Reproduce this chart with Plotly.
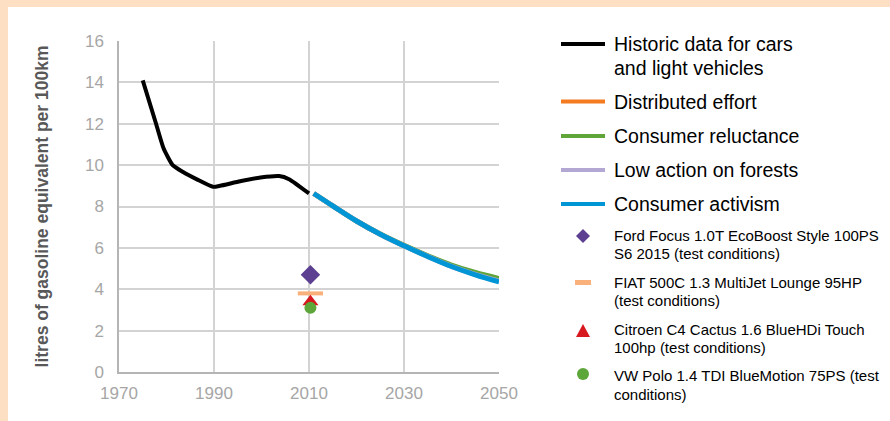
import plotly.graph_objects as go

# ---------------- data ----------------
hist_years = [1975, 1977.8, 1979.4, 1981.3, 1983.4, 1986.5, 1989.8, 1991.3, 1995.5, 1999.8, 2003.7, 2005.8, 2010]
hist_vals = [14.1, 12.0, 10.8, 10.0, 9.68, 9.3, 8.95, 9.0, 9.22, 9.4, 9.47, 9.32, 8.63]

scen_years = [2011, 2015, 2020, 2025, 2030, 2035, 2040, 2045, 2050]
distributed = [8.63, 8.03, 7.3, 6.66, 6.11, 5.6, 5.13, 4.75, 4.44]
reluctance = [8.63, 8.03, 7.3, 6.67, 6.12, 5.62, 5.17, 4.81, 4.52]
low_forests = [8.63, 8.03, 7.3, 6.66, 6.1, 5.59, 5.11, 4.72, 4.39]
activism = [8.63, 8.03, 7.3, 6.66, 6.1, 5.58, 5.1, 4.7, 4.36]

car_year = 2010.3
ford_val = [4.7]
fiat_val = [3.8]
citroen_val = [3.4]
vw_val = [3.1]

x_ticks = [1970, 1990, 2010, 2030, 2050]
y_ticks = [0, 2, 4, 6, 8, 10, 12, 14, 16]

# ---------------- layout geometry (pixels) ----------------
W, H = 890, 421
L, R, T, B = 119, 499, 41, 372  # plot area edges in px


def px(x):
    return (x - L) / (R - L)


def py(y):
    return (B - y) / (B - T)


FONT = "Arial, Liberation Sans, Helvetica, sans-serif"

fig = go.Figure()

fig.add_trace(go.Scatter(x=hist_years, y=hist_vals, mode="lines",
                         line=dict(color="#000000", width=4, shape="spline", smoothing=0.5),
                         name="Historic data"))
fig.add_trace(go.Scatter(x=scen_years, y=distributed, mode="lines",
                         line=dict(color="#F47B20", width=5, shape="spline"), name="Distributed effort"))
fig.add_trace(go.Scatter(x=scen_years, y=reluctance, mode="lines",
                         line=dict(color="#5FA53A", width=5, shape="spline"), name="Consumer reluctance"))
fig.add_trace(go.Scatter(x=scen_years, y=low_forests, mode="lines",
                         line=dict(color="#B3A8D3", width=5, shape="spline"), name="Low action on forests"))
fig.add_trace(go.Scatter(x=scen_years, y=activism, mode="lines",
                         line=dict(color="#0096D6", width=5, shape="spline"), name="Consumer activism"))

fig.add_trace(go.Scatter(x=[car_year], y=ford_val, mode="markers",
                         marker=dict(symbol="diamond", size=15, color="#5C3F91"), name="Ford"))
fig.add_trace(go.Scatter(x=[car_year], y=fiat_val, mode="markers",
                         marker=dict(symbol="line-ew", size=18, line=dict(color="#F9B07A", width=4)), name="FIAT"))
fig.add_trace(go.Scatter(x=[car_year], y=citroen_val, mode="markers",
                         marker=dict(symbol="triangle-up", size=14, color="#D7191F"), name="Citroen"))
fig.add_trace(go.Scatter(x=[car_year], y=vw_val, mode="markers",
                         marker=dict(symbol="circle", size=12, color="#5DA63A"), name="VW"))

shapes = []
# peach frame
peach = "#FDDFC4"
shapes.append(dict(type="rect", xref="paper", yref="paper", x0=px(0), x1=px(W), y0=py(0), y1=py(7),
                   fillcolor=peach, line=dict(width=0), layer="below"))
shapes.append(dict(type="rect", xref="paper", yref="paper", x0=px(0), x1=px(8), y0=py(0), y1=py(H),
                   fillcolor=peach, line=dict(width=0), layer="below"))

# legend
annotations = []
big = 19.5
small = 15
line_items = [
    ("#000000", 44, ["Historic data for cars", "and light vehicles"]),
    ("#F47B20", 101.5, ["Distributed effort"]),
    ("#5FA53A", 136, ["Consumer reluctance"]),
    ("#B3A8D3", 170, ["Low action on forests"]),
    ("#0096D6", 204, ["Consumer activism"]),
]
for color, y, lines in line_items:
    shapes.append(dict(type="line", xref="paper", yref="paper", x0=px(561), x1=px(605), y0=py(y), y1=py(y),
                       line=dict(color=color, width=4)))
    for i, t in enumerate(lines):
        annotations.append(dict(xref="paper", yref="paper", x=px(612), y=py(y + i * 23.5), text=t,
                                showarrow=False, xanchor="left", yanchor="middle",
                                font=dict(family=FONT, size=big, color="#000000")))

marker_items = [
    (235, ["Ford Focus 1.0T EcoBoost Style 100PS", "S6 2015 (test conditions)"]),
    (282, ["FIAT 500C 1.3 MultiJet Lounge 95HP", "(test conditions)"]),
    (329.5, ["Citroen C4 Cactus 1.6 BlueHDi Touch", "100hp (test conditions)"]),
    (376, ["VW Polo 1.4 TDI BlueMotion 75PS (test", "conditions)"]),
]
for y, lines in marker_items:
    for i, t in enumerate(lines):
        annotations.append(dict(xref="paper", yref="paper", x=px(612), y=py(y + i * 18), text=t,
                                showarrow=False, xanchor="left", yanchor="middle",
                                font=dict(family=FONT, size=small, color="#000000")))

# legend symbols
cx = 583
# diamond
d = 7
yd = 236
shapes.append(dict(type="path", xref="paper", yref="paper",
                   path=f"M {px(cx)} {py(yd - d)} L {px(cx + d)} {py(yd)} L {px(cx)} {py(yd + d)} L {px(cx - d)} {py(yd)} Z",
                   fillcolor="#5C3F91", line=dict(width=0)))
# dash
shapes.append(dict(type="line", xref="paper", yref="paper", x0=px(575), x1=px(591), y0=py(282.5), y1=py(282.5),
                   line=dict(color="#F9B07A", width=5)))
# triangle
yt = 331
shapes.append(dict(type="path", xref="paper", yref="paper",
                   path=f"M {px(cx - 7)} {py(yt + 6)} L {px(cx + 7)} {py(yt + 6)} L {px(cx)} {py(yt - 7)} Z",
                   fillcolor="#D7191F", line=dict(width=0)))
# circle
yc = 374
shapes.append(dict(type="circle", xref="paper", yref="paper", x0=px(cx - 6), x1=px(cx + 6), y0=py(yc - 6), y1=py(yc + 6),
                   fillcolor="#5DA63A", line=dict(width=0)))

fig.update_layout(
    width=W, height=H,
    margin=dict(l=L, r=W - R, t=T, b=H - B, pad=0),
    paper_bgcolor="#FFFFFF", plot_bgcolor="#FFFFFF",
    showlegend=False,
    shapes=shapes,
    annotations=annotations,
    font=dict(family=FONT),
)
fig.update_xaxes(range=[1970, 2050], tickvals=x_ticks, ticktext=[str(v) for v in x_ticks],
                 showgrid=True, gridcolor="#D3D3D3", gridwidth=1.5,
                 showline=True, linecolor="#B5B5B5", linewidth=1.5,
                 zeroline=False, ticks="", ticklabelstandoff=5,
                 tickfont=dict(family=FONT, size=17, color="#A6A6A6"))
fig.update_yaxes(range=[0, 16], tickvals=y_ticks, ticktext=[str(v) for v in y_ticks],
                 showgrid=True, gridcolor="#D3D3D3", gridwidth=1.5,
                 showline=True, linecolor="#B5B5B5", linewidth=1.5,
                 zeroline=False, ticks="", ticklabelstandoff=10,
                 tickfont=dict(family=FONT, size=17, color="#A6A6A6"),
                 title=dict(text="<b>litres of gasoline equivalent per 100km</b>", standoff=32,
                            font=dict(family=FONT, size=17.5, color="#585858")))

fig.write_html("out.html", config={"displayModeBar": False},
               post_script="document.body.style.margin='0';document.body.style.overflow='hidden';")
